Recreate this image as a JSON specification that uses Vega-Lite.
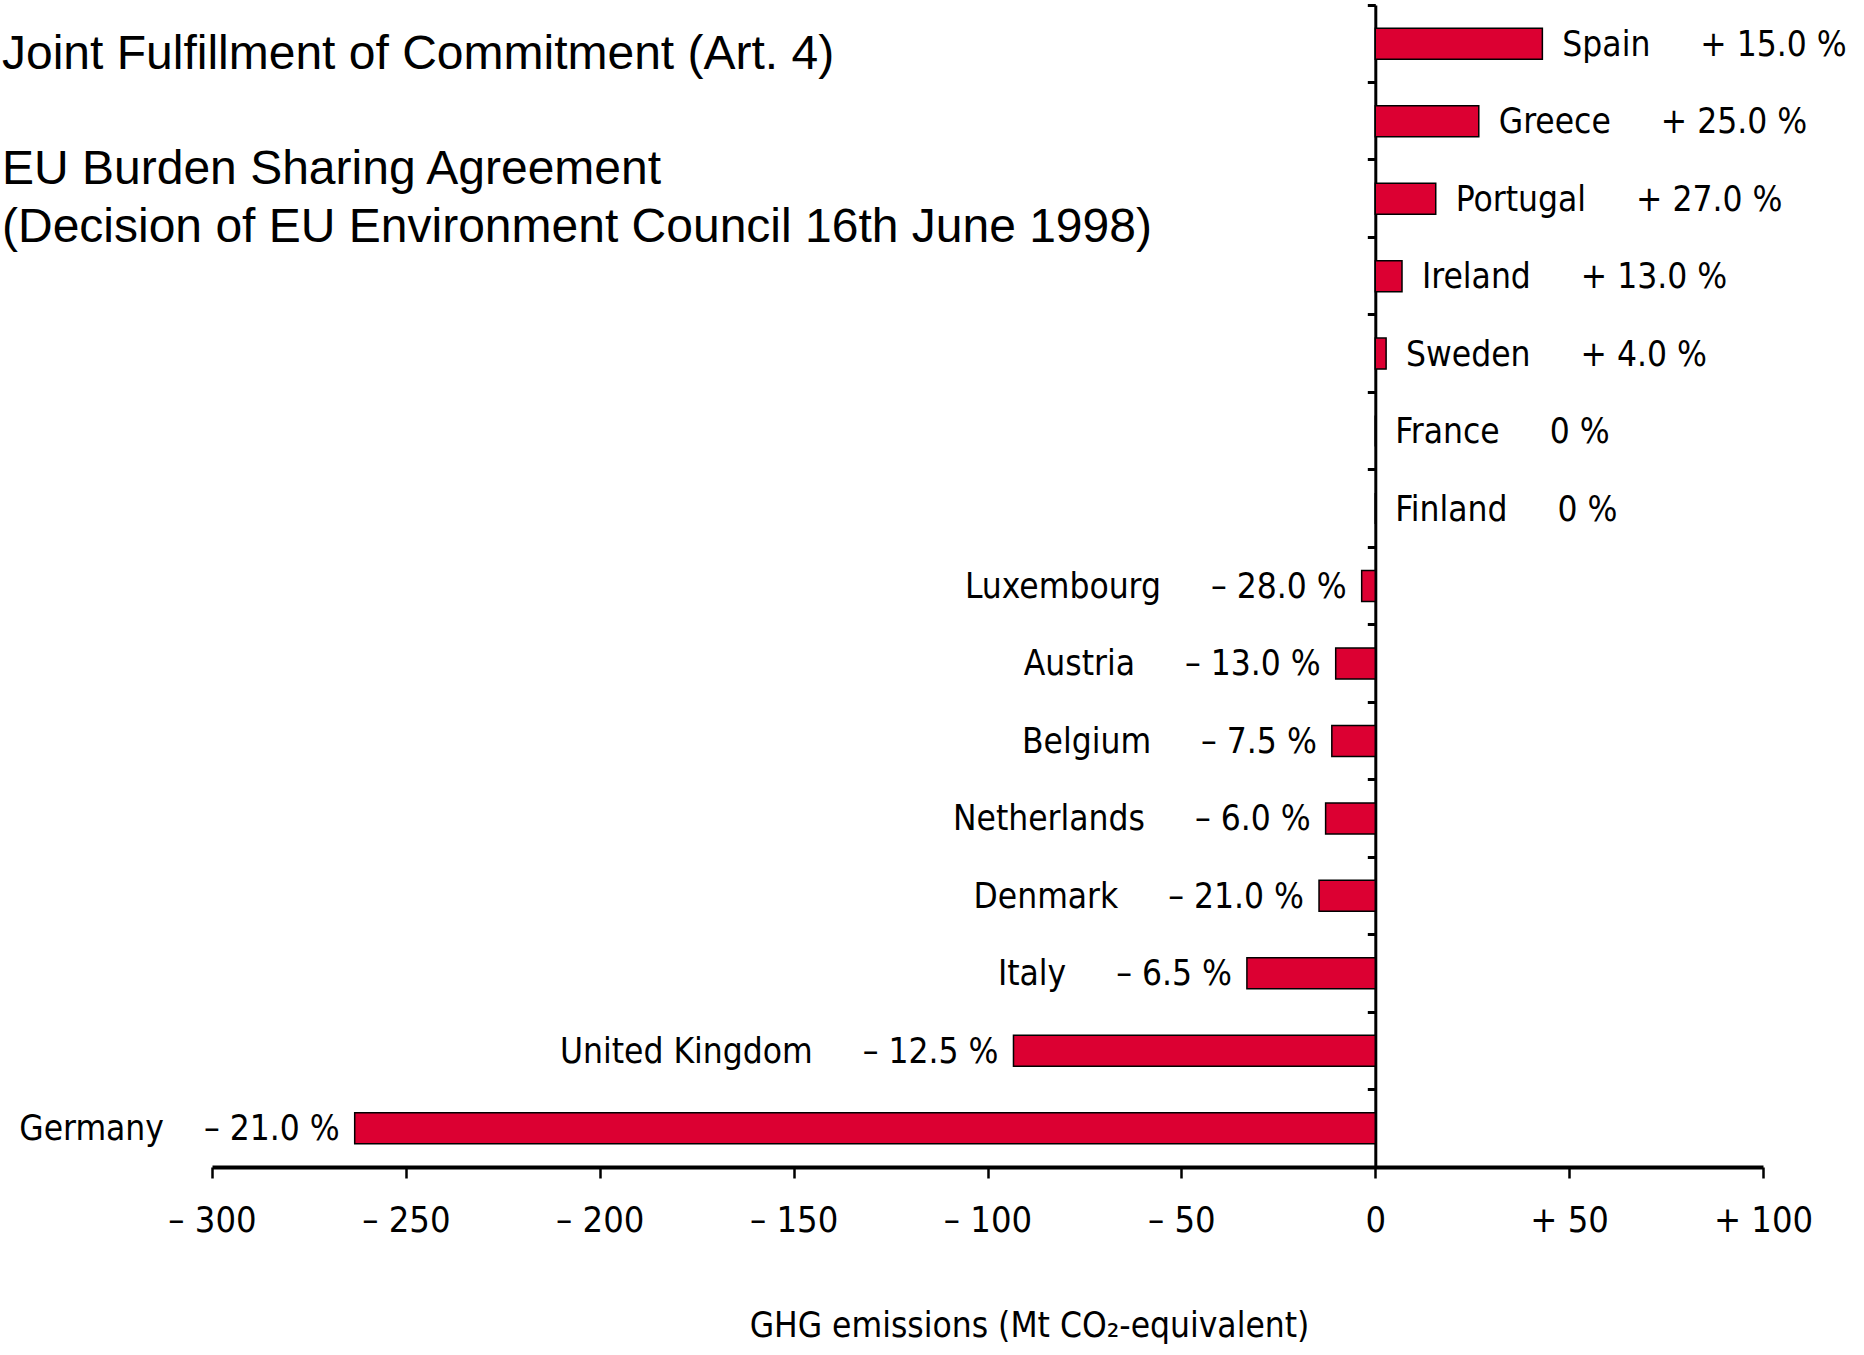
{
  "$schema": "https://vega.github.io/schema/vega-lite/v6.json",
  "width": 1551,
  "height": 1162,
  "autosize": {"type": "none"},
  "padding": {"left": 212, "top": 5, "right": 101, "bottom": 188},
  "background": "white",
  "title": {
    "text": "Joint Fulfillment of Commitment (Art. 4)",
    "subtitle": ["EU Burden Sharing Agreement", "(Decision of EU Environment Council 16th June 1998)"],
    "anchor": "start",
    "frame": "group",
    "orient": "top",
    "offset": 0,
    "dx": -210,
    "dy": 248,
    "baseline": "top",
    "align": "left",
    "font": "Liberation Sans",
    "fontSize": 48,
    "fontWeight": "normal",
    "color": "black",
    "subtitleFont": "Liberation Sans",
    "subtitleFontSize": 48,
    "subtitleFontWeight": "normal",
    "subtitleLineHeight": 57.5,
    "subtitleColor": "black",
    "subtitlePadding": 67
  },
  "data": {
    "values": [
      {"country": "Spain", "label": "Spain\u00a0\u00a0\u00a0\u00a0\u00a0+ 15.0 %", "mt": 43.1},
      {"country": "Greece", "label": "Greece\u00a0\u00a0\u00a0\u00a0\u00a0+ 25.0 %", "mt": 26.7},
      {"country": "Portugal", "label": "Portugal\u00a0\u00a0\u00a0\u00a0\u00a0+ 27.0 %", "mt": 15.6},
      {"country": "Ireland", "label": "Ireland\u00a0\u00a0\u00a0\u00a0\u00a0+ 13.0 %", "mt": 6.9},
      {"country": "Sweden", "label": "Sweden\u00a0\u00a0\u00a0\u00a0\u00a0+ 4.0 %", "mt": 2.8},
      {"country": "France", "label": "France\u00a0\u00a0\u00a0\u00a0\u00a00 %", "mt": 0},
      {"country": "Finland", "label": "Finland\u00a0\u00a0\u00a0\u00a0\u00a00 %", "mt": 0},
      {"country": "Luxembourg", "label": "Luxembourg\u00a0\u00a0\u00a0\u00a0\u00a0\u2013 28.0 %", "mt": -3.5},
      {"country": "Austria", "label": "Austria\u00a0\u00a0\u00a0\u00a0\u00a0\u2013 13.0 %", "mt": -10.2},
      {"country": "Belgium", "label": "Belgium\u00a0\u00a0\u00a0\u00a0\u00a0\u2013 7.5 %", "mt": -11.2},
      {"country": "Netherlands", "label": "Netherlands\u00a0\u00a0\u00a0\u00a0\u00a0\u2013 6.0 %", "mt": -12.8},
      {"country": "Denmark", "label": "Denmark\u00a0\u00a0\u00a0\u00a0\u00a0\u2013 21.0 %", "mt": -14.5},
      {"country": "Italy", "label": "Italy\u00a0\u00a0\u00a0\u00a0\u00a0\u2013 6.5 %", "mt": -33.1},
      {"country": "United Kingdom", "label": "United Kingdom\u00a0\u00a0\u00a0\u00a0\u00a0\u2013 12.5 %", "mt": -93.3},
      {"country": "Germany", "label": "Germany\u00a0\u00a0\u00a0\u00a0\u2013 21.0 %", "mt": -263.2}
    ]
  },
  "encoding": {
    "y": {
      "field": "country",
      "type": "nominal",
      "sort": null,
      "scale": {"paddingInner": 0, "paddingOuter": 0},
      "axis": {
        "title": null,
        "labels": false,
        "orient": "left",
        "offset": -1163.3,
        "domainColor": "black",
        "domainWidth": 3,
        "tickColor": "black",
        "tickWidth": 3,
        "tickSize": 8,
        "bandPosition": 0,
        "grid": false
      }
    },
    "x": {
      "field": "mt",
      "type": "quantitative",
      "scale": {"domain": [-300, 100], "nice": false},
      "axis": {
        "title": "GHG emissions (Mt CO\u2082-equivalent)",
        "values": [-300, -250, -200, -150, -100, -50, 0, 50, 100],
        "labelExpr": "datum.value < 0 ? '\u2013 ' + (-datum.value) : datum.value > 0 ? '+ ' + datum.value : '0'",
        "domainColor": "black",
        "domainWidth": 4,
        "tickColor": "black",
        "tickWidth": 2.5,
        "tickSize": 11,
        "labelFont": "DejaVu Sans Condensed, DejaVu Sans",
        "labelFontSize": 36,
        "labelColor": "black",
        "labelBaseline": "alphabetic",
        "labelPadding": 53,
        "labelFlush": false,
        "labelOverlap": false,
        "grid": false,
        "titleFont": "DejaVu Sans Condensed, DejaVu Sans",
        "titleFontSize": 35,
        "titleFontWeight": "normal",
        "titleColor": "black",
        "titleX": 817,
        "titleY": 169,
        "titleBaseline": "alphabetic",
        "titleAlign": "center",
        "titleAnchor": null
      }
    }
  },
  "layer": [
    {
      "mark": {"type": "bar", "height": {"band": 0.4}, "fill": "#DC0032", "stroke": "black", "strokeWidth": 1.5}
    },
    {
      "transform": [{"filter": "datum.mt >= 0"}],
      "mark": {"type": "text", "align": "left", "baseline": "middle", "dx": 20, "dy": 1, "font": "DejaVu Sans Condensed, DejaVu Sans", "fontSize": 35, "color": "black"},
      "encoding": {"text": {"field": "label", "type": "nominal"}}
    },
    {
      "transform": [{"filter": "datum.mt < 0"}],
      "mark": {"type": "text", "align": "right", "baseline": "middle", "dx": -15, "dy": 1, "font": "DejaVu Sans Condensed, DejaVu Sans", "fontSize": 35, "color": "black"},
      "encoding": {"text": {"field": "label", "type": "nominal"}}
    }
  ],
  "config": {"view": {"stroke": null}}
}
